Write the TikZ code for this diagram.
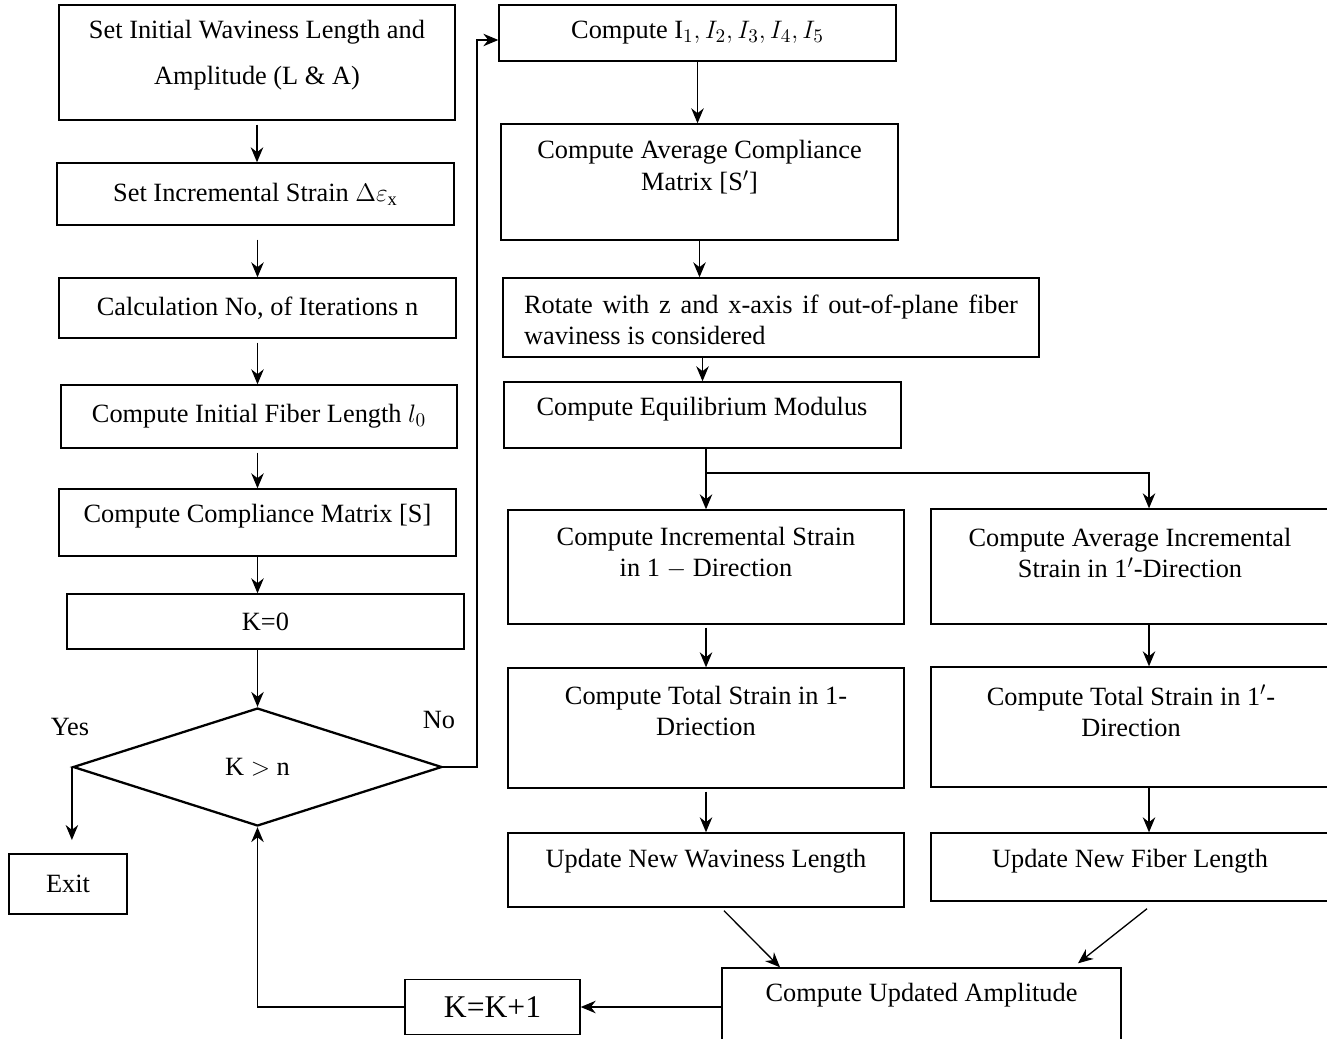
\documentclass[tikz,border=0pt]{standalone}
\usepackage{fontspec}
\setmainfont{Liberation Serif}
\usetikzlibrary{arrows.meta, shapes.geometric}

\tikzset{
  box/.style={draw, line width=0.8pt, inner sep=0pt, font=\fontsize{15}{18}\selectfont},
  txt/.style={inner sep=0pt, align=center, font=\fontsize{15}{18}\selectfont},
}

\begin{document}
\begin{tikzpicture}[x=0.02cm, y=-0.02cm, >={Stealth[length=0.3cm,width=0.25cm]}, line width=0.75pt]
        \useasboundingbox (0,0) rectangle (1327,1038);
        % left column
        \node (set) at (257,62.5) [box, minimum width=7.92cm, minimum height=2.3cm] {};
        \node (settxt) at (257,55) [txt, font=\fontsize{15}{26}\selectfont] {Set Initial Waviness Length and\\Amplitude (L \& A)};
        \node (strain) at (255.5,194) [box, minimum width=7.94cm, minimum height=1.24cm] {Set Incremental Strain $\Delta\varepsilon_{\mathrm{x}}$};
        \node (iter) at (257.5,308) [box, minimum width=7.94cm, minimum height=1.2cm] {Calculation No, of Iterations n};
        \node (len0) at (259,416.5) [box, minimum width=7.92cm, minimum height=1.26cm] {Compute Initial Fiber Length $l_0$};
        \node (cmat) at (257.5,522.5) [box, minimum width=7.94cm, minimum height=1.34cm] {};
        \node (cmattxt) at (257.5,516) [txt] {Compute Compliance Matrix [S]};
        \node (kzero) at (265.5,621.5) [box, minimum width=7.94cm, minimum height=1.1cm] {K=0};
        \node (check) at (257.5,767) [diamond, draw, line width=1.3pt, minimum width=7.38cm, minimum height=2.36cm, inner sep=0pt, font=\fontsize{15}{18}\selectfont] {K $>$ n};
        \node (yes) at (70,727) [txt] {Yes};
        \node (no) at (439,720) [txt] {No};
        \node (exit) at (68,884) [box, minimum width=2.36cm, minimum height=1.2cm] {Exit};
        \node (incr) at (492.5,1007) [box, minimum width=3.5cm, minimum height=1.1cm, font=\fontsize{18}{21}\selectfont] {K=K+1};
        \node (ampl) at (921.5,1007) [box, minimum width=7.98cm, minimum height=1.56cm] {};
        \node (ampltxt) at (921.5,995) [txt] {Compute Updated Amplitude};
        % right column
        \node (inv) at (697.5,33) [box, minimum width=7.94cm, minimum height=1.12cm] {Compute I$_1, I_2, I_3, I_4, I_5$};
        \node (avg) at (699.5,182) [box, minimum width=7.94cm, minimum height=2.32cm] {};
        \node (avgtxt) at (699.5,167) [txt] {Compute Average Compliance\\Matrix [S$'$]};
        \node (rot) at (771,317.5) [box, minimum width=10.72cm, minimum height=1.58cm] {};
        \node (rottxt) at (771,320) [txt, text width=9.88cm, align=justify] {\tolerance=9999 Rotate with z and x-axis if out-of-plane fiber waviness is considered};
        \node (equi) at (702.5,415) [box, minimum width=7.94cm, minimum height=1.32cm] {};
        \node (equitxt) at (702,409) [txt] {Compute Equilibrium Modulus};
        \node (incr1) at (706,567) [box, minimum width=7.92cm, minimum height=2.28cm] {};
        \node (incr1txt) at (706,553) [txt] {Compute Incremental Strain\\in 1 $-$ Direction};
        \node (incr2) at (1131,566.5) [box, minimum width=8cm, minimum height=2.3cm] {};
        \node (incr2txt) at (1130,553) [txt] {Compute Average Incremental\\Strain in 1$'$-Direction};
        \node (tot1) at (706,728) [box, minimum width=7.92cm, minimum height=2.4cm] {};
        \node (tot1txt) at (706,711) [txt] {Compute Total Strain in 1-\\Driection};
        \node (tot2) at (1131,727) [box, minimum width=8cm, minimum height=2.4cm] {};
        \node (tot2txt) at (1131,711) [txt] {Compute Total Strain in 1$'$-\\Direction};
        \node (upd1) at (706,870) [box, minimum width=7.92cm, minimum height=1.48cm] {};
        \node (upd1txt) at (706,861) [txt] {Update New Waviness Length};
        \node (upd2) at (1131,867) [box, minimum width=8cm, minimum height=1.36cm] {};
        \node (upd2txt) at (1130,861) [txt] {Update New Fiber Length};
        \coordinate (split) at (706,473);
        \coordinate (rcol) at (1149,473);
        % connectors
        \draw [->, shorten <=0.08cm] (set.south) -- (set.south |- strain.north);
        \draw [->, shorten <=0.28cm] (strain.south -| iter.north) -- (iter.north);
        \draw [->, shorten <=0.08cm] (iter.south) -- (iter.south |- len0.north);
        \draw [->, shorten <=0.08cm] (len0.south -| cmat.north) -- (cmat.north);
        \draw [->] (cmat.south) -- (cmat.south |- kzero.north);
        \draw [->] (check.north |- kzero.south) -- (check.north);
        \draw [->] (check.west) -- ++(0,73);
        \draw [->] (check.east) -- ++(34,0) |- ([yshift=-0.14cm]inv.west);
        \draw [->] (inv.south) -- (inv.south |- avg.north);
        \draw [->] (avg.south) -- (avg.south |- rot.north);
        \draw [->] (rot.south -| equi.north) -- (equi.north);
        \draw (equi.south -| split) -- (split);
        \draw [->] (split) -- (incr1.north);
        \draw [->] (split) -- (rcol) -- (rcol |- incr2.north);
        \draw [->, shorten <=0.06cm] (incr1.south) -- (tot1.north);
        \draw [->, shorten <=0.06cm] (tot1.south) -- (upd1.north);
        \draw [->] (incr2.south -| rcol) -- (tot2.north -| rcol);
        \draw [->] (tot2.south -| rcol) -- (upd2.north -| rcol);
        \draw [->] ([xshift=0.36cm, yshift=-0.06cm]upd1.south) -- ([xshift=-2.83cm]ampl.north);
        \draw [->] ([xshift=0.32cm, yshift=-0.14cm]upd2.south) -- ([xshift=3.13cm, yshift=0.08cm]ampl.north);
        \draw [->] (ampl.west) -- (incr.east);
        \draw [->] (incr.west) -| (check.south);
      \end{tikzpicture}
\end{document}
